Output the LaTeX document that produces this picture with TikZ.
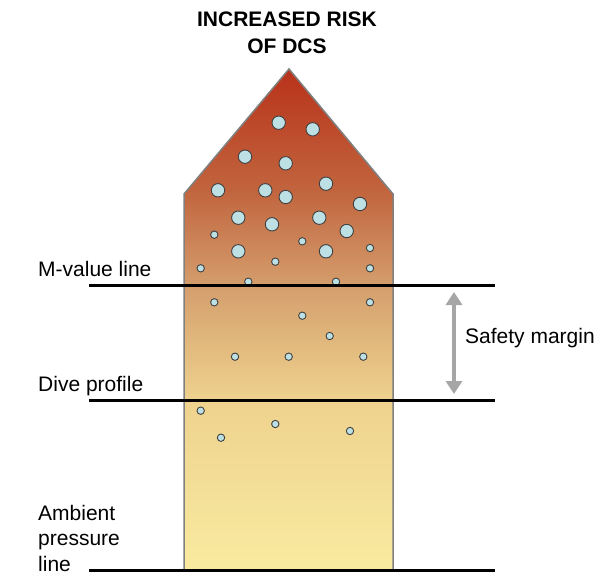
\documentclass[tikz,border=0pt]{standalone}
\usepackage{fontspec}
\setmainfont{Liberation Sans}
\usetikzlibrary{arrows.meta}

\definecolor{sarga}{RGB}{249,235,160}
\definecolor{homok}{RGB}{238,210,142}
\definecolor{narancs}{RGB}{213,160,110}
\definecolor{teglavoros}{RGB}{193,100,62}
\definecolor{voros}{RGB}{184,50,26}
\definecolor{buborekkek}{RGB}{189,224,228}
\definecolor{nyilszurke}{RGB}{166,166,166}

\pgfdeclareverticalshading{kockazat}{100bp}{color(0bp)=(sarga); color(25bp)=(sarga); color(42bp)=(homok); color(53bp)=(narancs); color(63bp)=(teglavoros); color(75bp)=(voros); color(100bp)=(voros)}

\begin{document}
\begin{tikzpicture}[x=1pt,y=-1pt,>={Triangle[width=16pt,length=13pt]},
buborek/.style={draw=black!75,line width=.9pt,fill=buborekkek},
vonal/.style={line width=3pt},
felirat/.style={anchor=base west,inner sep=0pt,font=\fontsize{21}{25.5}\selectfont}]

\useasboundingbox (0,0) rectangle (603,576);

\pgfmathsetmacro{\bal}{89}
\pgfmathsetmacro{\jobb}{495}

% a kockazati sav
\shadedraw[shading=kockazat, draw=black!50, line width=1.5pt]
  (184,570) -- (184,194) -- (289,69) -- (393,194) -- (393,570) -- cycle;

\node[font=\bfseries\fontsize{21}{26.7}\selectfont, align=center, anchor=base, inner sep=0pt](cim) at (287,53.3){INCREASED RISK\\OF DCS};

% buborekok
\foreach \x/\y in {278.7/122.7, 312.7/129.3, 245/156.7, 285.7/163.3, 218/190.3, 265.3/190.3, 326/183.7, 285.7/197,
  360/204, 238.3/217.7, 272/224.3, 319.3/217.7, 346.7/231, 238.3/251.3, 326/251.3}
  \draw[buborek] (\x,\y) circle[radius=6.7pt];

\foreach \x/\y in {214.3/234.7, 302.3/241.3, 370/248, 275.3/261.7, 200.7/268.3, 370/268.3, 248.3/281.7, 336/281.7,
  214.3/302.3, 370/302.3, 302.3/315.7, 329.7/336, 235/356.7, 288.7/356.7, 363.3/356.7,
  200.7/410.7, 275.3/424, 221/437.7, 350/431}
  \draw[buborek] (\x,\y) circle[radius=3.7pt];

\coordinate (m-bal) at (\bal,285);
\coordinate (m-jobb) at (\jobb,285);
\coordinate (merules-bal) at (\bal,400);
\coordinate (merules-jobb) at (\jobb,400);
\coordinate (kornyezet-bal) at (\bal,570);
\coordinate (kornyezet-jobb) at (\jobb,570);

\node[felirat](m-ertek) at (38,276.7){M-value line};
\node[felirat](merules) at (38,391){Dive profile};
\node[felirat, align=left](kornyezet) at (38,571){Ambient\\pressure\\line};
\node[felirat](biztonsag) at (465,343){Safety margin};

\begin{scope}[vonal]
\draw (m-bal)--(m-jobb);
\draw (merules-bal)--(merules-jobb);
\draw (kornyezet-bal)--(kornyezet-jobb);
\end{scope}

\coordinate (sm-fent) at (454,292);
\coordinate (sm-lent) at (454,394);
\draw[<->, draw=nyilszurke, line width=3.5pt] (sm-fent)--(sm-lent);

\end{tikzpicture}
\end{document}
